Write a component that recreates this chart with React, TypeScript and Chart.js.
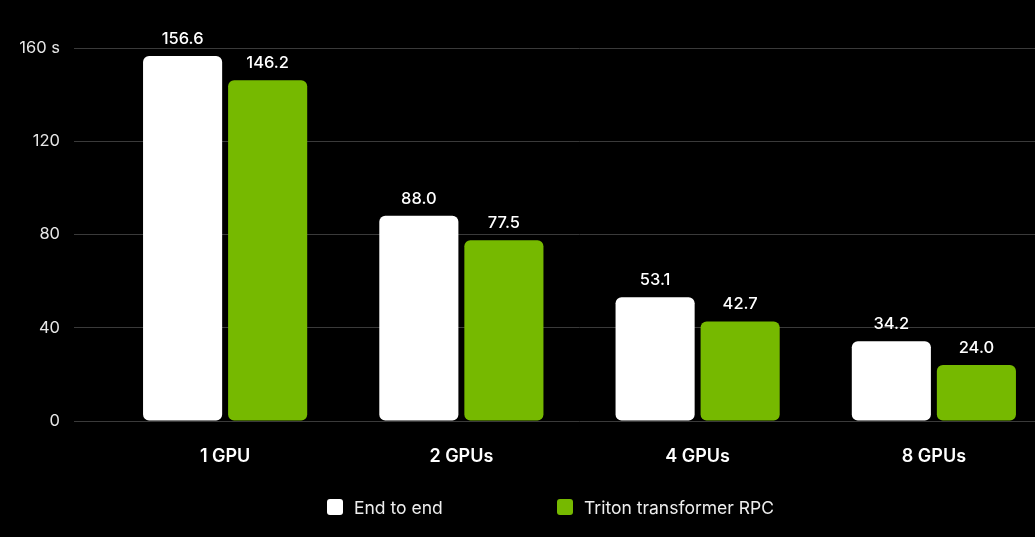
import React, { useEffect, useRef } from 'react';
import { Chart, registerables } from 'chart.js';

Chart.register(...registerables);

const categories = ['1 GPU', '2 GPUs', '4 GPUs', '8 GPUs'];
const endToEnd = [156.6, 88.0, 53.1, 34.2];
const tritonRpc = [146.2, 77.5, 42.7, 24.0];
const seriesNames = ['End to end', 'Triton transformer RPC'];
const seriesColors = ['#ffffff', '#76b900'];

const FONT = 'Inter, "Noto Sans", "DejaVu Sans", sans-serif';

// writes the value above each bar
const valueLabels = {
  id: 'valueLabels',
  afterDatasetsDraw(chart: any) {
    const ctx = chart.ctx;
    ctx.save();
    ctx.fillStyle = '#ffffff';
    ctx.font = `500 16.5px ${FONT}`;
    ctx.textAlign = 'center';
    ctx.textBaseline = 'alphabetic';
    chart.data.datasets.forEach((ds: any, i: number) => {
      chart.getDatasetMeta(i).data.forEach((bar: any, j: number) => {
        ctx.fillText(ds.data[j].toFixed(1), bar.x, bar.y - 12);
      });
    });
    ctx.restore();
  },
};

const BarChart: React.FC = () => {
  const chartRef = useRef<HTMLCanvasElement>(null);

  useEffect(() => {
    if (!chartRef.current) return;
    const chart = new Chart(chartRef.current, {
      type: 'bar',
      data: {
        labels: categories,
        datasets: [
          {
            label: seriesNames[0],
            data: endToEnd,
            backgroundColor: seriesColors[0],
            borderRadius: 6,
            borderSkipped: false,
          },
          {
            label: seriesNames[1],
            data: tritonRpc,
            backgroundColor: seriesColors[1],
            borderRadius: 6,
            borderSkipped: false,
          },
        ],
      },
      options: {
        animation: false,
        responsive: true,
        maintainAspectRatio: false,
        categoryPercentage: 0.72,
        barPercentage: 0.93,
        layout: { padding: { left: 0, right: 48, top: 48, bottom: 48 } },
        plugins: {
          legend: { display: false },
          tooltip: { enabled: false },
        },
        scales: {
          x: {
            grid: { display: false, drawTicks: false },
            border: { display: false },
            afterFit(scale: any) {
              scale.height = 68;
            },
            ticks: {
              color: '#ffffff',
              padding: 25,
              font: { family: FONT, size: 18, weight: 600 },
            },
          },
          y: {
            min: 0,
            max: 160,
            afterFit(scale: any) {
              scale.width = 107;
            },
            grid: { color: '#3a3a3a', lineWidth: 1, drawTicks: true, tickLength: 33, tickColor: '#3a3a3a' },
            border: { display: false },
            ticks: {
              stepSize: 40,
              padding: 14,
              color: '#e6e6e6',
              font: { family: FONT, size: 16.5 },
              callback: (v: any) => (v === 160 ? '160 s' : String(v)),
            },
          },
        },
      },
      plugins: [valueLabels],
    });
    return () => chart.destroy();
  }, []);

  return (
    <div style={{ position: 'absolute', left: 0, top: 0, width: 1100, height: 537 }}>
      <canvas ref={chartRef} />
    </div>
  );
};

const legendItem = (name: string, color: string, left: number) => (
  <div
    key={name}
    style={{
      position: 'absolute',
      left,
      top: 497,
      height: 20,
      display: 'flex',
      alignItems: 'center',
      color: '#eeeeee',
      fontFamily: FONT,
      fontSize: 17.5,
    }}
  >
    <span
      style={{
        display: 'inline-block',
        width: 16,
        height: 16,
        borderRadius: 3,
        background: color,
        marginRight: 11,
      }}
    />
    {name}
  </div>
);

export default function App() {
  return (
    <div
      style={{
        position: 'absolute',
        left: 0,
        top: 0,
        width: 1035,
        height: 537,
        overflow: 'hidden',
        background: '#000000',
      }}
    >
      <BarChart />
      {legendItem(seriesNames[0], seriesColors[0], 327)}
      {legendItem(seriesNames[1], seriesColors[1], 557)}
    </div>
  );
}
